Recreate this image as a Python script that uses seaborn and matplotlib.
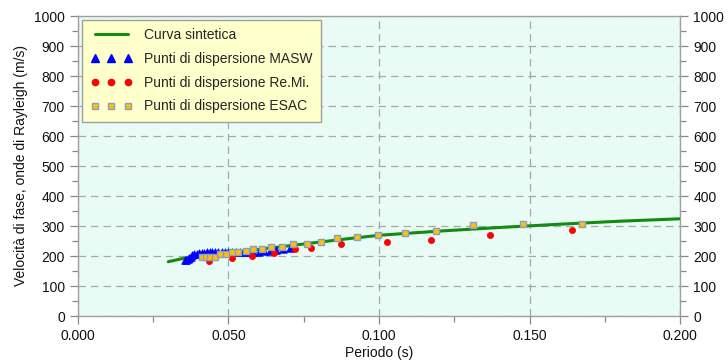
import numpy as np
import pandas as pd
import matplotlib
matplotlib.use("Agg")
import matplotlib.pyplot as plt
import seaborn as sns
from matplotlib.lines import Line2D
from matplotlib.ticker import MultipleLocator, FormatStrFormatter

# ---- data ----
curve_period = [0.030, 0.035, 0.040, 0.045, 0.050, 0.060, 0.070, 0.080, 0.090,
                0.100, 0.120, 0.140, 0.160, 0.180, 0.200]
curve_vel = [181, 192, 200, 206, 211, 222, 234, 246, 258, 269, 283, 295, 306, 316, 324]

masw_period = [0.0355, 0.0360, 0.0365, 0.0370, 0.0375, 0.0380, 0.0387, 0.0395, 0.0403,
               0.0411, 0.0419, 0.0428, 0.0437, 0.0446, 0.0456, 0.0466, 0.0477, 0.0488,
               0.0500, 0.0512, 0.0525, 0.0538, 0.0552, 0.0567, 0.0583, 0.0600, 0.0618,
               0.0637, 0.0657, 0.0680, 0.0705]
masw_vel = [186, 188, 190, 194, 198, 202, 206, 208, 209, 210, 211, 212, 212, 213, 213,
            214, 214, 214, 215, 215, 215, 214, 214, 214, 214, 215, 216, 217, 219, 222, 228]

remi_period = [0.0436, 0.0513, 0.0577, 0.0651, 0.0722, 0.0773, 0.0873, 0.1026,
               0.1172, 0.1369, 0.1641]
remi_vel = [184, 193, 201, 211, 224, 228, 241, 248, 255, 271, 288]

esac_period = [0.0411, 0.0424, 0.0437, 0.0455, 0.0473, 0.0491, 0.0511, 0.0533, 0.0557,
               0.0582, 0.0610, 0.0641, 0.0677, 0.0715, 0.0760, 0.0807, 0.0861, 0.0926,
               0.0998, 0.1086, 0.1188, 0.1313, 0.1479, 0.1673]
esac_vel = [198, 198, 198, 198, 206, 206, 212, 212, 218, 223, 223, 229, 230, 241, 241,
            248, 260, 264, 271, 278, 284, 303, 308, 308]

labels = ["Curva sintetica", "Punti di dispersione MASW",
          "Punti di dispersione Re.Mi.", "Punti di dispersione ESAC"]

x_ticks = [0.0, 0.05, 0.10, 0.15, 0.20]
y_ticks = list(range(0, 1001, 100))

# ---- style ----
sns.set_style("white")
plt.rcParams['font.family'] = ['Liberation Sans', 'DejaVu Sans']

fig = plt.figure(figsize=(7.28, 3.62), dpi=100)
ax = fig.add_axes([78/728, 1 - 316/362, (680-78)/728, 300/362])
ax.set_facecolor("#E9FBF5")

green = "#138A13"
blue = "#0000FF"
red = "#FF0000"
gold = "#FFC000"
sq_edge = "#8C9CC8"

df_c = pd.DataFrame({"x": curve_period, "y": curve_vel})
df_m = pd.DataFrame({"x": masw_period, "y": masw_vel})
df_r = pd.DataFrame({"x": remi_period, "y": remi_vel})
df_e = pd.DataFrame({"x": esac_period, "y": esac_vel})

sns.lineplot(data=df_c, x="x", y="y", ax=ax, color=green, lw=2.2, zorder=3)
sns.scatterplot(data=df_m, x="x", y="y", ax=ax, marker="^", color=blue, s=30,
                edgecolor=blue, linewidth=0.5, zorder=4)
sns.scatterplot(data=df_r, x="x", y="y", ax=ax, marker="o", color=red, s=20,
                edgecolor=red, linewidth=0.5, zorder=5)
sns.scatterplot(data=df_e, x="x", y="y", ax=ax, marker="s", color=gold, s=22,
                edgecolor=sq_edge, linewidth=1.0, zorder=6)

ax.set_xlim(0, 0.2)
ax.set_ylim(0, 1000)
ax.set_xticks(x_ticks)
ax.set_yticks(y_ticks)
ax.xaxis.set_major_formatter(FormatStrFormatter("%.3f"))
ax.xaxis.set_minor_locator(MultipleLocator(0.025))
ax.yaxis.set_minor_locator(MultipleLocator(50))
ax.grid(True, which="major", color="#A8A8A8", linestyle=(0, (6, 4)), lw=0.9, zorder=1)
ax.set_axisbelow(True)

ax.tick_params(axis="both", which="both", direction="out", colors="#888888",
               labelcolor="#111111", labelsize=10)
ax.tick_params(axis="both", which="major", length=6, width=0.9)
ax.tick_params(axis="both", which="minor", length=4, width=0.9)
ax.tick_params(axis="y", which="both", left=True, right=True, labelleft=True, labelright=True)
ax.tick_params(axis="x", which="both", bottom=True, top=False)

for sp in ax.spines.values():
    sp.set_color("#A0A0A0")
    sp.set_linewidth(1.0)

ax.set_xlabel("Periodo (s)", fontsize=10, color="#111111", labelpad=2)
ax.set_ylabel("Velocità di fase, onde di Rayleigh (m/s)", fontsize=10,
              color="#111111", labelpad=4)

handles = [
    Line2D([], [], color=green, lw=2.2),
    Line2D([], [], color=blue, marker="^", ls="none", markersize=5.5),
    Line2D([], [], color=red, marker="o", ls="none", markersize=4.5),
    Line2D([], [], color=gold, marker="s", ls="none", markersize=5,
           markeredgecolor=sq_edge, markeredgewidth=1.0),
]
leg = ax.legend(handles, labels, loc="upper left",
                bbox_to_anchor=((82-78)/602, (316-20)/300), borderaxespad=0,
                numpoints=3, handlelength=3.0, fontsize=10, labelspacing=0.7,
                frameon=True, fancybox=False, facecolor="#FFFFCC",
                edgecolor="#A0A0A0", framealpha=1.0, borderpad=0.6,
                handletextpad=0.9)
leg.get_frame().set_linewidth(1.0)

fig.savefig("out.png", dpi=100)
